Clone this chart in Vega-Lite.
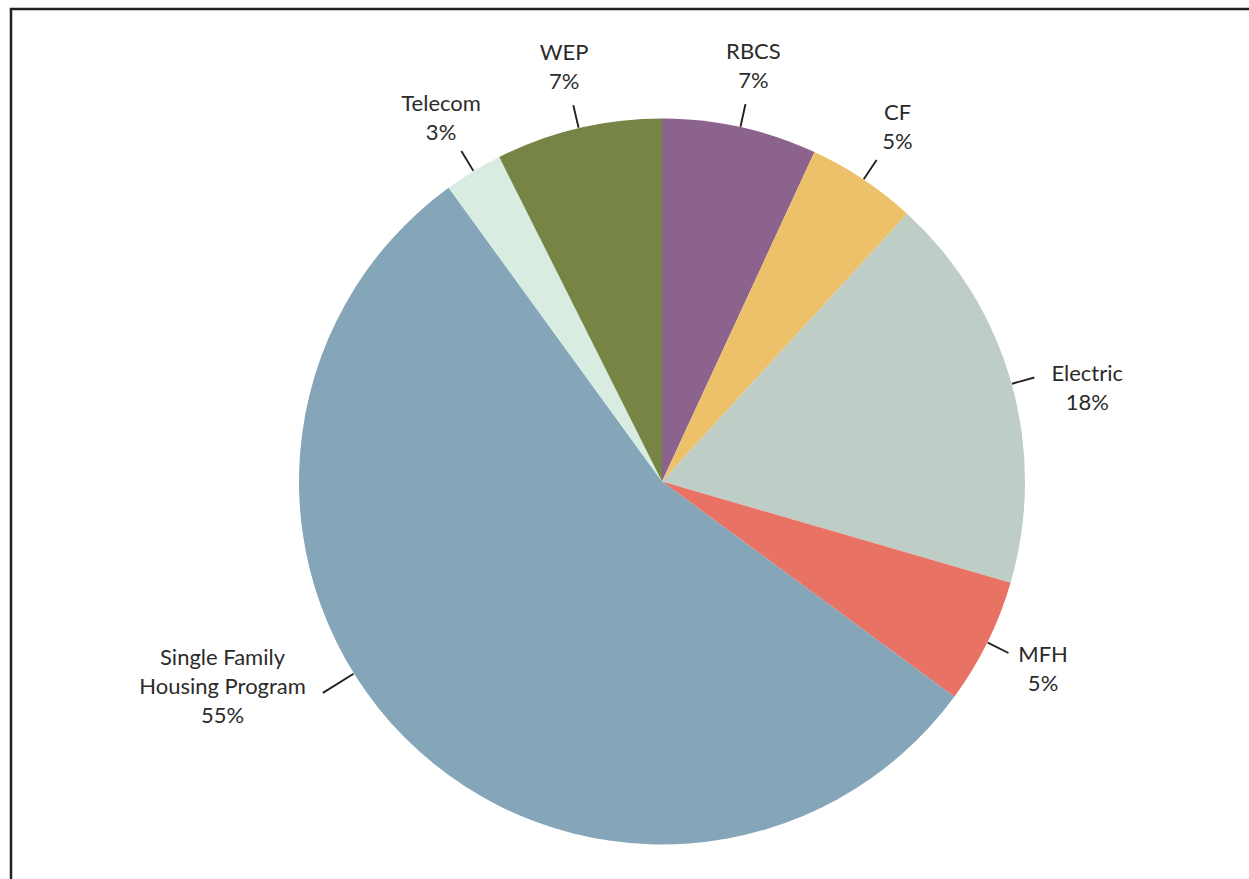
{
  "$schema": "https://vega.github.io/schema/vega-lite/v6.json",
  "width": 1302,
  "height": 945,
  "autosize": {"type": "none"},
  "padding": {"left": 11, "top": 9, "right": -64, "bottom": -75},
  "background": "white",
  "view": {"stroke": "#222222", "strokeWidth": 2.5, "strokeDash": [1302, 2247, 945, 0], "strokeCap": "square", "fill": "white"},
  "config": {
    "text": {"font": "Lato", "fontSize": 22, "lineHeight": 29, "color": "#2b2b2b", "lineBreak": "\n"}
  },
  "data": {
    "values": [
      {"cat": "RBCS", "o": 1, "value": 6.9, "label": "RBCS\n7%"},
      {"cat": "CF", "o": 2, "value": 4.9, "label": "CF\n5%"},
      {"cat": "Electric", "o": 3, "value": 17.7, "label": "Electric\n18%"},
      {"cat": "MFH", "o": 4, "value": 5.6, "label": "MFH\n5%"},
      {"cat": "Single Family Housing Program", "o": 5, "value": 54.9, "label": "Single Family\nHousing Program\n55%"},
      {"cat": "Telecom", "o": 6, "value": 2.6, "label": "Telecom\n3%"},
      {"cat": "WEP", "o": 7, "value": 7.4, "label": "WEP\n7%"}
    ]
  },
  "transform": [
    {"stack": "value", "groupby": [], "sort": [{"field": "o"}], "as": ["v0", "v1"]},
    {"calculate": "(datum.v0 + datum.v1) / 2", "as": "mid"},
    {"calculate": "datum.mid + 0.03", "as": "mid2"}
  ],
  "layer": [
    {
      "mark": {"type": "arc", "outerRadius": 363},
      "encoding": {
        "theta": {"field": "v0", "type": "quantitative", "stack": null, "scale": {"domain": [0, 100]}},
        "theta2": {"field": "v1"},
        "color": {
          "field": "cat", "type": "nominal", "legend": null,
          "scale": {
            "domain": ["RBCS", "CF", "Electric", "MFH", "Single Family Housing Program", "Telecom", "WEP"],
            "range": ["#8c638c", "#edc16a", "#becdc5", "#e87263", "#85a5b9", "#d9ece2", "#768446"]
          }
        }
      }
    },
    {
      "transform": [{"filter": "datum.cat !== 'Single Family Housing Program'"}],
      "mark": {"type": "arc", "innerRadius": 364, "outerRadius": 386, "filled": false, "stroke": "#222222", "strokeWidth": 1.2},
      "encoding": {
        "theta": {"field": "mid", "type": "quantitative", "stack": null, "scale": {"domain": [0, 100]}},
        "theta2": {"field": "mid2"}
      }
    },
    {
      "transform": [{"filter": "datum.cat === 'Single Family Housing Program'"}],
      "mark": {"type": "arc", "innerRadius": 364, "outerRadius": 399, "thetaOffset": 0.224, "theta2Offset": 0.224, "filled": false, "stroke": "#222222", "strokeWidth": 1.2},
      "encoding": {
        "theta": {"field": "mid", "type": "quantitative", "stack": null, "scale": {"domain": [0, 100]}},
        "theta2": {"field": "mid2"}
      }
    },
    {
      "transform": [{"filter": "datum.cat !== 'Single Family Housing Program' && datum.cat !== 'Electric'"}],
      "mark": {"type": "text", "radius": 425, "align": "center", "baseline": "middle", "dy": -14.5},
      "encoding": {
        "theta": {"field": "mid", "type": "quantitative", "stack": null, "scale": {"domain": [0, 100]}},
        "text": {"field": "label"}
      }
    },
    {
      "transform": [{"filter": "datum.cat === 'Electric'"}],
      "mark": {"type": "text", "radius": 425, "align": "center", "baseline": "middle", "dx": 16, "dy": 7.5},
      "encoding": {
        "theta": {"field": "mid", "type": "quantitative", "stack": null, "scale": {"domain": [0, 100]}},
        "text": {"field": "label"}
      }
    },
    {
      "transform": [{"filter": "datum.cat === 'Single Family Housing Program'"}],
      "mark": {"type": "text", "radius": 425, "align": "center", "baseline": "middle", "dx": -138, "dy": -123},
      "encoding": {
        "theta": {"field": "mid", "type": "quantitative", "stack": null, "scale": {"domain": [0, 100]}},
        "text": {"field": "label"}
      }
    }
  ]
}
